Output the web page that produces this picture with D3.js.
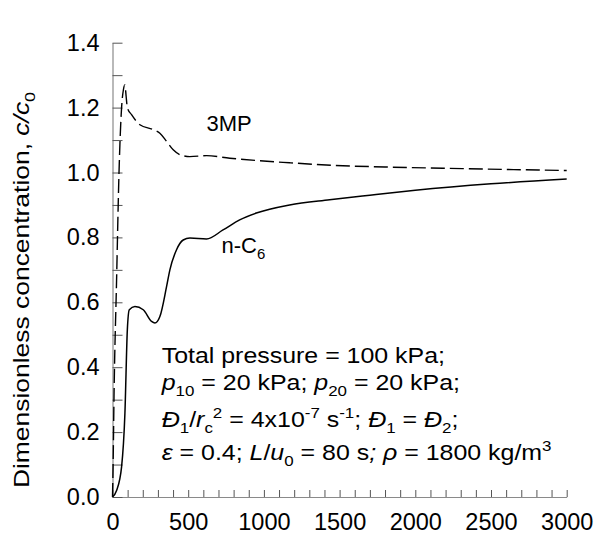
<!DOCTYPE html>
<html>
<head>
<meta charset="utf-8">
<script src="https://cdn.jsdelivr.net/npm/d3@7"></script>
<style>
  body { margin: 0; background: #fff; }
  text { font-family: "Liberation Sans", Arial, Helvetica, sans-serif; fill: #000; }
</style>
</head>
<body>
<div id="chart"></div>
<script>
// data: time (s) vs c/c0
var time3MP = [0, 4, 10, 27, 43, 60, 72, 82, 90, 98, 126, 181, 269, 313, 357, 401, 445, 511, 621, 775, 950, 1170, 1454, 1800, 2311, 2650, 3000];
var conc3MP = [0, 0.1, 0.31, 0.67, 1.0, 1.2, 1.255, 1.27, 1.235, 1.2, 1.178, 1.147, 1.132, 1.121, 1.096, 1.07, 1.055, 1.049, 1.052, 1.044, 1.037, 1.03, 1.022, 1.017, 1.012, 1.009, 1.006];

var timeNC6 = [0, 27, 60, 82, 98, 111, 148, 203, 258, 280, 313, 357, 379, 423, 467, 511, 621, 730, 840, 950, 1170, 1434, 1700, 2000, 2500, 3000];
var concNC6 = [0, 0.02, 0.093, 0.258, 0.515, 0.577, 0.587, 0.577, 0.541, 0.536, 0.556, 0.648, 0.70, 0.762, 0.792, 0.798, 0.795, 0.823, 0.854, 0.875, 0.90, 0.916, 0.93, 0.945, 0.965, 0.98];

var xTickLabels = [0, 500, 1000, 1500, 2000, 2500, 3000];
var yTickLabels = [0.0, 0.2, 0.4, 0.6, 0.8, 1.0, 1.2, 1.4];

// text block lines: [text, style] with style "i" italic, "sub", "sup"
var noteLines = [
    [["Total pressure = 100 kPa;", ""]],
    [["p", "i"], ["10", "sub"], [" = 20 kPa; ", ""], ["p", "i"], ["20", "sub"], [" = 20 kPa;", ""]],
    [["Đ", "i"], ["1", "sub"], ["/", ""], ["r", "i"], ["c", "sub"], ["2", "sup"], [" = 4x10", ""], ["-7", "sup"], [" s", ""], ["-1", "sup"], ["; ", ""], ["Đ", "i"], ["1", "sub"], [" = ", ""], ["Đ", "i"], ["2", "sub"], [";", ""]],
    [["ε", "i"], [" = 0.4; ", ""], ["L", "i"], ["/", ""], ["u", "i"], ["0", "sub"], [" = 80 s", ""], ["; ρ", "i"], [" = 1800 kg/m", ""], ["3", "sup"]]
];
var noteBaselines = [363, 390, 427, 460];

var width = 595;
var height = 535;

var svg = d3.select("#chart")
    .append("svg")
    .attr("width", width)
    .attr("height", height);

var x = d3.scaleLinear().domain([0, 3000]).range([112.5, 566.7]);
var y = d3.scaleLinear().domain([0, 1.4]).range([497, 42.7]);

// x-axis, ticks pointing inward every 100
var xAxis = d3.axisBottom(x)
    .tickValues(d3.range(0, 31).map(function (i) { return i * 100; }))
    .tickSizeInner(-7)
    .tickSizeOuter(0)
    .tickPadding(16.5)
    .tickFormat(function (d) { return xTickLabels.indexOf(d) >= 0 ? d : ""; });
var gx = svg.append("g")
    .attr("transform", "translate(0," + y(0) + ")")
    .call(xAxis);

// y-axis, ticks every 0.1
var yAxis = d3.axisLeft(y)
    .tickValues(d3.range(0, 15).map(function (i) { return i / 10; }))
    .tickSizeInner(-10)
    .tickSizeOuter(0)
    .tickPadding(13)
    .tickFormat(function (d) {
        var hit = yTickLabels.some(function (v) { return Math.abs(v - d) < 1e-9; });
        return hit ? d3.format(".1f")(d) : "";
    });
var gy = svg.append("g")
    .attr("transform", "translate(" + x(0) + ",0)")
    .call(yAxis);

[gx, gy].forEach(function (g) {
    g.select(".domain").attr("stroke", "#8a8a8a").attr("stroke-width", 1.2);
    g.selectAll(".tick line").attr("stroke", "#555").attr("stroke-width", 1);
    g.selectAll(".tick text")
        .style("font-family", "'Liberation Sans', Arial, sans-serif")
        .style("font-size", "23.5px")
        .attr("fill", "#000");
});

// curves
var line = d3.line()
    .x(function (d) { return x(d[0]); })
    .y(function (d) { return y(d[1]); })
    .curve(d3.curveMonotoneX);

svg.append("path")
    .datum(d3.zip(time3MP, conc3MP))
    .attr("d", line)
    .attr("fill", "none")
    .attr("stroke", "#000")
    .attr("stroke-width", 1.4)
    .attr("stroke-dasharray", "14,5");

svg.append("path")
    .datum(d3.zip(timeNC6, concNC6))
    .attr("d", line)
    .attr("fill", "none")
    .attr("stroke", "#000")
    .attr("stroke-width", 1.5);

// writes rich text segments into a text element
function richText(sel, segs, fs) {
    var shift = 0;
    segs.forEach(function (s) {
        var target = s[1] == "sub" ? 6 : (s[1] == "sup" ? -9 : 0);
        var t = sel.append("tspan")
            .attr("dy", target - shift)
            .style("font-size", (s[1] == "sub" || s[1] == "sup") ? (fs * 0.68) + "px" : fs + "px")
            .text(s[0]);
        if (s[1] == "i") t.style("font-style", "italic");
        shift = target;
    });
}

// curve labels
svg.append("text")
    .attr("x", 206.5)
    .attr("y", 130.7)
    .style("font-size", "22px")
    .text("3MP");

richText(svg.append("text").attr("x", 221.5).attr("y", 253.3),
    [["n-C", ""], ["6", "sub"]], 22);

// y-axis label
var ylab = svg.append("g")
    .attr("transform", "translate(28.5,290) rotate(-90) scale(1.23,1)")
    .append("text")
    .style("text-anchor", "middle");
richText(ylab, [["Dimensionless concentration, ", ""], ["c/c", "i"], ["0", "sub"]], 21.5);

// conditions text block
noteLines.forEach(function (segs, i) {
    var t = svg.append("g")
        .attr("transform", "translate(161.7," + noteBaselines[i] + ") scale(1.16,1)")
        .append("text");
    richText(t, segs, 21.5);
});
</script>
</body>
</html>
